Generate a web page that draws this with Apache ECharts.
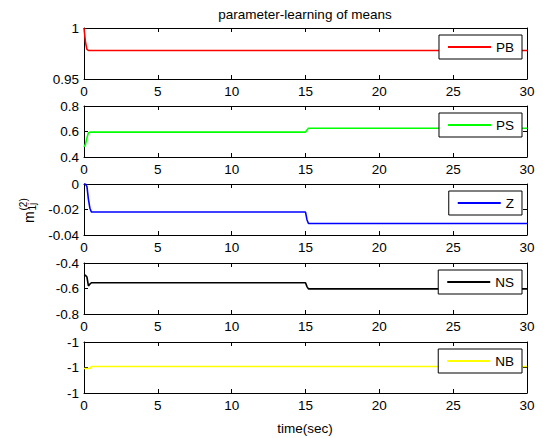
<!DOCTYPE html>
<html>
<head>
<meta charset="utf-8">
<script src="https://cdn.jsdelivr.net/npm/echarts@6/dist/echarts.min.js"></script>
<style>
html,body{margin:0;padding:0;background:#fff;}
#chart{width:543px;height:438px;}
</style>
</head>
<body>
<div id="chart"></div>
<script>
// ---- data ----
const time = [0, 0.1, 0.2, 0.3, 0.4, 0.5, 0.6, 15, 15.1, 15.2, 30];
const pbValues = [1, 0.986, 0.979, 0.978, 0.978, 0.978, 0.978, 0.978, 0.978, 0.978, 0.978];
const psValues = [0.48, 0.5, 0.55, 0.59, 0.595, 0.595, 0.595, 0.595, 0.612, 0.625, 0.625];
const zValues = [0, 0, -0.002, -0.012, -0.019, -0.022, -0.022, -0.022, -0.028, -0.031, -0.031];
const nsValues = [-0.495, -0.497, -0.51, -0.58, -0.565, -0.555, -0.555, -0.555, -0.585, -0.603, -0.603];
const nbValues = [-1.00004, -1.00004, -1.00004, -1.00004, -1.00004, -0.99996, -0.99996, -0.99996, -0.99996, -0.99996, -0.99996];
const seriesNames = ['PB', 'PS', 'Z', 'NS', 'NB'];
const seriesColors = ['#ff0000', '#00ff00', '#0000ff', '#000000', '#ffff00'];
const yMins = [0.95, 0.4, -0.04, -0.8, -1.001];
const yMaxs = [1, 0.8, 0, -0.4, -0.999];
const yIntervals = [0.05, 0.2, 0.02, 0.2, 0.001];
const xMin = 0, xMax = 30, xInterval = 5;
const titleText = 'parameter-learning of means';
const xLabelText = 'time(sec)';
// y-axis label pieces: m, superscript (2), subscript 1j
const yLabelParts = ['m', '(2)', '1j'];

// ---- layout ----
const FONT = '"Liberation Sans", Arial, Helvetica, sans-serif';
const FS = 13.5;
const gridTops = [28, 106, 184, 263, 342];
const gridH = 51, gridLeft = 84, gridRight = 16;
const allValues = [pbValues, psValues, zValues, nsValues, nbValues];

const grids = [], xAxes = [], yAxes = [], series = [], legends = [];
gridTops.forEach((top, i) => {
  grids.push({left: gridLeft, right: gridRight, top: top, height: gridH});
  const common = {
    axisLine: {show: true, onZero: false, lineStyle: {color: '#000', width: 1}},
    axisTick: {show: true, inside: true, length: 4, lineStyle: {color: '#000'}},
    splitLine: {show: false}
  };
  xAxes.push(Object.assign({}, common, {
    type: 'value', gridIndex: i, position: 'bottom', min: xMin, max: xMax, interval: xInterval,
    axisLabel: {show: true, color: '#000', fontSize: FS, fontFamily: FONT, margin: 5}
  }));
  xAxes.push(Object.assign({}, common, {
    type: 'value', gridIndex: i, position: 'top', min: xMin, max: xMax, interval: xInterval,
    axisLabel: {show: false}
  }));
  const yl = {show: true, color: '#000', fontSize: FS, fontFamily: FONT, margin: 5};
  if (i === 4) yl.formatter = () => '-1';
  yAxes.push(Object.assign({}, common, {
    type: 'value', gridIndex: i, position: 'left', min: yMins[i], max: yMaxs[i], interval: yIntervals[i],
    axisLabel: yl
  }));
  yAxes.push(Object.assign({}, common, {
    type: 'value', gridIndex: i, position: 'right', min: yMins[i], max: yMaxs[i], interval: yIntervals[i],
    axisLabel: {show: false}
  }));
  series.push({
    name: seriesNames[i], type: 'line', xAxisIndex: 2 * i, yAxisIndex: 2 * i,
    data: time.map((t, k) => [t, allValues[i][k]]),
    showSymbol: false, symbol: 'none', animation: false,
    lineStyle: {color: seriesColors[i], width: 1.6},
    itemStyle: {color: seriesColors[i]}
  });
  legends.push({
    data: [seriesNames[i]], right: 21, top: top + 7, orient: 'horizontal',
    backgroundColor: '#fff', borderColor: '#000', borderWidth: 1, borderRadius: 0,
    padding: [5, 8, 5, 9], icon: 'rect', itemWidth: 43, itemHeight: 2,
    selectedMode: false,
    textStyle: {color: '#000', fontSize: FS, fontFamily: FONT}
  });
});

const chart = echarts.init(document.getElementById('chart'), null, {renderer: 'svg'});
chart.setOption({
  backgroundColor: '#fff',
  animation: false,
  grid: grids, xAxis: xAxes, yAxis: yAxes, series: series, legend: legends,
  graphic: [
    {type: 'text', x: 305, y: 14, style: {text: titleText, font: FS + 'px ' + FONT, fill: '#000', textAlign: 'center', textVerticalAlign: 'middle'}},
    {type: 'text', x: 305, y: 428, style: {text: xLabelText, font: FS + 'px ' + FONT, fill: '#000', textAlign: 'center', textVerticalAlign: 'middle'}},
    {type: 'group', x: 33, y: 223, rotation: Math.PI / 2, children: [
      {type: 'text', x: 0, y: 3, style: {text: yLabelParts[0], font: '14px ' + FONT, fill: '#000', textAlign: 'left', textVerticalAlign: 'bottom'}},
      {type: 'text', x: 12.5, y: -5, style: {text: yLabelParts[1], font: '10px ' + FONT, fill: '#000', textAlign: 'left', textVerticalAlign: 'bottom'}},
      {type: 'text', x: 12.5, y: 4, style: {text: yLabelParts[2], font: '10px ' + FONT, fill: '#000', textAlign: 'left', textVerticalAlign: 'bottom'}}
    ]}
  ]
});
</script>
</body>
</html>
